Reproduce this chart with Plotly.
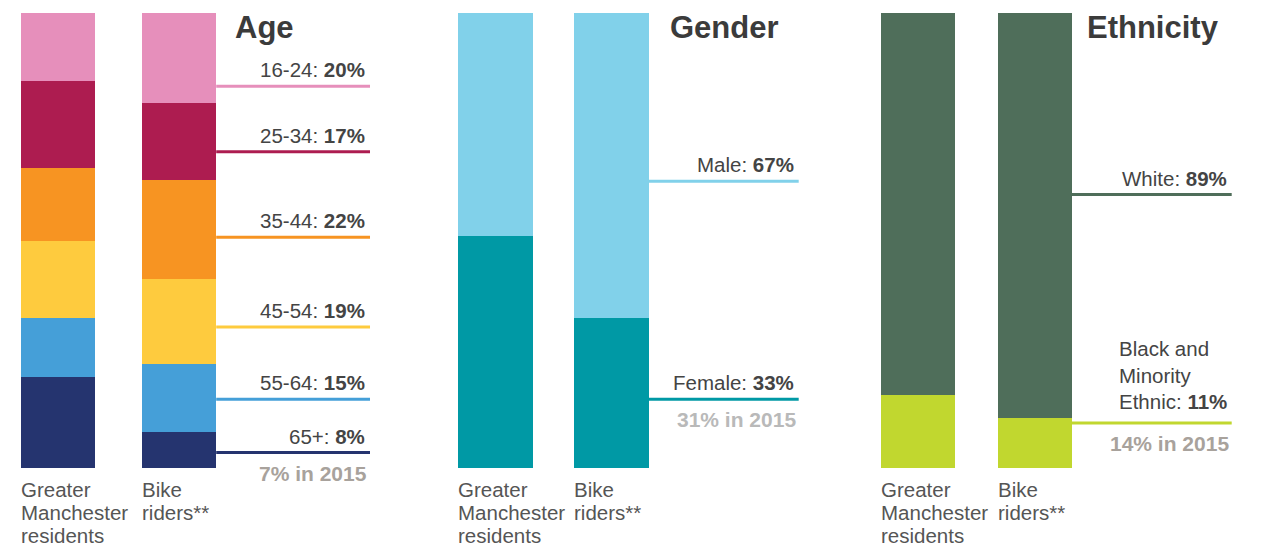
import plotly.graph_objects as go

# ---------------- data ----------------
categories = ["Greater Manchester residents", "Bike riders**"]
category_lines = [["Greater", "Manchester", "residents"], ["Bike", "riders**"]]

# stacked from the bottom up
age_groups = ["65+", "55-64", "45-54", "35-44", "25-34", "16-24"]
age_residents = [20, 13, 17, 16, 19, 15]
age_riders = [8, 15, 19, 22, 17, 20]
age_note = "7% in 2015"

gender_groups = ["Female", "Male"]
gender_residents = [51, 49]
gender_riders = [33, 67]
gender_note = "31% in 2015"

eth_groups = ["Black and<br>Minority<br>Ethnic", "White"]
eth_residents = [16, 84]
eth_riders = [11, 89]
eth_note = "14% in 2015"

# ---------------- styles / layout constants ----------------
age_colors = ["#25346f", "#459fd8", "#fecb3e", "#f79422", "#ad1c50", "#e68fbb"]
gender_colors = ["#0099a5", "#81d1ea"]
eth_colors = ["#c1d72f", "#4f6e5a"]

age_line_y = [3.4, 15.1, 31.0, 50.7, 69.5, 83.9]
gender_line_y = [15.1, 63.0]
eth_line_y = [9.9, 60.1]

FONT = "Liberation Sans, Arial, Helvetica, sans-serif"
TXT = "#444444"
W, H = 1261, 547
MT, MB = 13, 79
PLOT_H = H - MT - MB

panels = [
    dict(title="Age", groups=age_groups, res=age_residents, rid=age_riders,
         colors=age_colors, line_y=age_line_y, note=age_note, note_color="#a8a29c",
         gm_center=58.0, spacing=121.2, bar_px=74.0, dom=(0, 425),
         line_end=370.0, title_left=235.0, multiline=False),
    dict(title="Gender", groups=gender_groups, res=gender_residents, rid=gender_riders,
         colors=gender_colors, line_y=gender_line_y, note=gender_note, note_color="#b9b9b9",
         gm_center=495.5, spacing=115.8, bar_px=74.8, dom=(430, 845),
         line_end=798.7, title_left=670.0, multiline=False),
    dict(title="Ethnicity", groups=eth_groups, res=eth_residents, rid=eth_riders,
         colors=eth_colors, line_y=eth_line_y, note=eth_note, note_color="#a8a29c",
         gm_center=917.7, spacing=117.0, bar_px=74.0, dom=(850, 1261),
         line_end=1231.7, title_left=1087.0, multiline=True),
]

fig = go.Figure()
shapes = []
annotations = []

for i, p in enumerate(panels):
    n = "" if i == 0 else str(i + 1)
    xref = "x" + n
    yref = "y" + n
    s = p["spacing"]
    c0 = p["gm_center"]
    p0, p1 = p["dom"]
    rng = [(p0 - c0) / s, (p1 - c0) / s]
    bw = p["bar_px"] / s

    for g, r, b, col in zip(p["groups"], p["res"], p["rid"], p["colors"]):
        fig.add_trace(go.Bar(
            x=categories, y=[r, b], width=[bw, bw],
            marker=dict(color=col, line=dict(width=0)),
            name=g.replace("<br>", " "), xaxis=xref, yaxis=yref,
            hoverinfo="skip", showlegend=False,
        ))

    fig.update_layout(**{
        ("xaxis" + n): dict(domain=[p0 / W, p1 / W], range=rng, type="category",
                            categoryorder="array", categoryarray=categories,
                            visible=False, fixedrange=True),
        ("yaxis" + n): dict(range=[0, 100], visible=False, fixedrange=True,
                            anchor=xref),
    })

    line_start = 1 + bw / 2
    line_end = (p["line_end"] - c0) / s
    for k, (g, val, col, ly) in enumerate(zip(p["groups"], p["rid"], p["colors"], p["line_y"])):
        shapes.append(dict(type="line", xref=xref, yref=yref,
                           x0=line_start, x1=line_end, y0=ly, y1=ly,
                           line=dict(color=col, width=3)))
        multi = p["multiline"] and "<br>" in g
        annotations.append(dict(
            xref=xref, yref=yref, x=line_end, y=ly, xanchor="right", yanchor="bottom",
            xshift=-3, yshift=8 if multi else 3, align="left", showarrow=False,
            text=f"{g}: <b>{val}%</b>",
            font=dict(family=FONT, size=20.5, color=TXT)))
        if k == 0:
            annotations.append(dict(
                xref=xref, yref=yref, x=line_end, y=ly, xanchor="right", yanchor="top",
                xshift=-1, yshift=-7, showarrow=False,
                text=f"<b>{p['note']}</b>",
                font=dict(family=FONT, size=21, color=p["note_color"])))

    # title
    annotations.append(dict(
        xref=xref, yref="paper", x=(p["title_left"] - c0) / s, y=(H - MB - 27) / PLOT_H,
        xanchor="left", yanchor="middle", xshift=-2, showarrow=False,
        text=f"<b>{p['title']}</b>",
        font=dict(family=FONT, size=31, color="#3b3b3b")))

    # category labels (left aligned under each bar)
    for ci, lines in enumerate(category_lines):
        for li, t in enumerate(lines):
            annotations.append(dict(
                xref=xref, yref="paper", x=ci - bw / 2, y=0,
                xanchor="left", yanchor="middle", xshift=-2, yshift=-(21.5 + 23 * li),
                showarrow=False, text=t,
                font=dict(family=FONT, size=20.5, color="#555555")))

fig.update_layout(
    width=W, height=H,
    margin=dict(l=0, r=0, t=MT, b=MB, pad=0),
    barmode="stack", barnorm="percent", bargap=0,
    paper_bgcolor="white", plot_bgcolor="white",
    showlegend=False,
    shapes=shapes, annotations=annotations,
)

fig.write_html("out.html",
               config={"displayModeBar": False, "staticPlot": True},
               post_script="document.body.style.margin='0';document.body.style.overflow='hidden';")
